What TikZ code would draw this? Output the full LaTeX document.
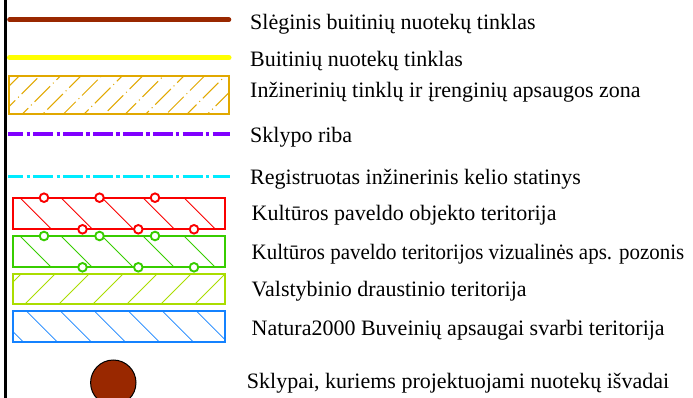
\documentclass[tikz,border=0pt]{standalone}
\usepackage{fontspec}
\newfontfamily\lserif{Liberation Serif}
\definecolor{cbrown}{RGB}{153,40,0}
\definecolor{cyellow}{RGB}{255,255,0}
\definecolor{corange}{RGB}{225,168,0}
\definecolor{cpurple}{RGB}{128,0,255}
\definecolor{ccyan}{RGB}{0,235,255}
\definecolor{cred}{RGB}{250,0,0}
\definecolor{cgreen}{RGB}{55,205,0}
\definecolor{cygreen}{RGB}{170,221,0}
\definecolor{cblue}{RGB}{20,130,255}
\begin{document}
\begin{tikzpicture}[x=1pt,y=1pt,
  lbl/.style={anchor=base west, inner sep=0pt, font=\lserif\fontsize{22}{26}\selectfont},
  solidline/.style={line width=4.6pt, line cap=round},
  dashdot/.style={line width=#1, dash pattern=on 20pt off 3.3pt on 3.3pt off 3.3pt, dash phase=4.7pt},
  boxframe/.style={line width=2pt},
  hatch/.style={line width=0.8pt},
  ring/.style={line width=1.9pt, fill=white}
]
\clip (0,0) rectangle (693,-398);
\fill[white] (0,0) rectangle (693,-398);
% left border
\draw[line width=2.6pt, black] (5.4,0) -- (5.4,-398);

% 1 brown pressure sewer
\coordinate (a1) at (9.5,-19.7);
\coordinate (b1) at (229,-19.7);
\draw[solidline, cbrown] (a1) -- (b1);
\node[lbl] (t1) at (250,-29.3) {Slėginis buitinių nuotekų tinklas};

% 2 yellow sewer
\coordinate (a2) at (9.5,-57.8);
\coordinate (b2) at (229,-57.8);
\draw[solidline, cyellow, line width=5pt] (a2) -- (b2);
\node[lbl] (t2) at (250,-66.7) {Buitinių nuotekų tinklas};

% 3 orange protection zone
\begin{scope}
  \clip (9,-76) rectangle (228.7,-114.5);
  \foreach \x [count=\i] in {-40,-19.4,...,230} {
    \pgfmathsetmacro{\ph}{mod(\i*11,31)}
    \draw[hatch, corange, line width=1pt, dash pattern=on 22pt off 4pt on 1pt off 4pt, dash phase=\ph pt] (\x,-114.5) -- ++(45,45);
  }
\end{scope}
\draw[boxframe, corange] (9,-76) rectangle (228.7,-114.5);
\node[lbl] (t3) at (250,-97.7) {Inžinerinių tinklų ir įrenginių apsaugos zona};

% 4 purple plot boundary
\coordinate (a4) at (8,-134);
\coordinate (b4) at (230,-134);
\draw[dashdot=4.4pt, cpurple] (a4) -- (b4);
\node[lbl] (t4) at (250,-142.7) {Sklypo riba};

% 5 cyan road structure
\coordinate (a5) at (8,-176.3);
\coordinate (b5) at (230,-176.3);
\draw[dashdot=3.2pt, ccyan] (a5) -- (b5);
\node[lbl] (t5) at (250,-184.3) {Registruotas inžinerinis kelio statinys};

% 6 red cultural heritage
\begin{scope}
  \clip (12.7,-197.7) rectangle (225.3,-229.3);
  \foreach \x in {-21,20,...,230} \draw[hatch, cred] (\x,-197.7) -- ++(40,-40);
\end{scope}
\draw[boxframe, cred] (12.7,-197.7) rectangle (225.3,-229.3);
\foreach \x in {44,99.5,155} \draw[ring, draw=cred] (\x,-197.7) circle (4.3);
\foreach \x in {82.5,138.3,194} \draw[ring, draw=cred] (\x,-229.3) circle (4.3);
\node[lbl] (t6) at (251.5,-220.7) {Kultūros paveldo objekto teritorija};

% 7 green visual protection
\begin{scope}
  \clip (12.7,-236) rectangle (225.3,-267.3);
  \foreach \x in {-21,20,...,230} \draw[hatch, cgreen] (\x,-236) -- ++(40,-40);
\end{scope}
\draw[boxframe, cgreen] (12.7,-236) rectangle (225.3,-267.3);
\foreach \x in {44,99.5,155} \draw[ring, draw=cgreen] (\x,-236) circle (4.3);
\foreach \x in {82.5,138.3,194} \draw[ring, draw=cgreen] (\x,-267.3) circle (4.3);
\node[lbl] (t7) at (251.5,-259.3) {\scalebox{0.953}[1]{Kultūros paveldo teritorijos vizualinės aps. pozonis}};

% 8 yellow-green reserve
\begin{scope}
  \clip (12.7,-274) rectangle (225.3,-304);
  \foreach \x in {-9,25,...,230} \draw[hatch, cygreen] (\x,-304) -- ++(40,40);
\end{scope}
\draw[boxframe, cygreen] (12.7,-274) rectangle (225.3,-304);
\node[lbl] (t8) at (251.5,-296.7) {Valstybinio draustinio teritorija};

% 9 blue Natura2000
\begin{scope}
  \clip (12.7,-311.3) rectangle (225.3,-342.3);
  \foreach \x in {-7.3,26.7,...,230} \draw[hatch, cblue] (\x,-311.3) -- ++(40,-40);
\end{scope}
\draw[boxframe, cblue] (12.7,-311.3) rectangle (225.3,-342.3);
\node[lbl] (t9) at (251.5,-335) {Natura2000 Buveinių apsaugai svarbi teritorija};

% 10 brown plot marker
\node[circle, minimum size=45.4pt, inner sep=0pt, fill=cbrown, draw=black, line width=1pt] (m10) at (113.3,-382.7) {};
\node[lbl] (t10) at (246.7,-388.3) {Sklypai, kuriems projektuojami nuotekų išvadai};
\end{tikzpicture}
\end{document}
